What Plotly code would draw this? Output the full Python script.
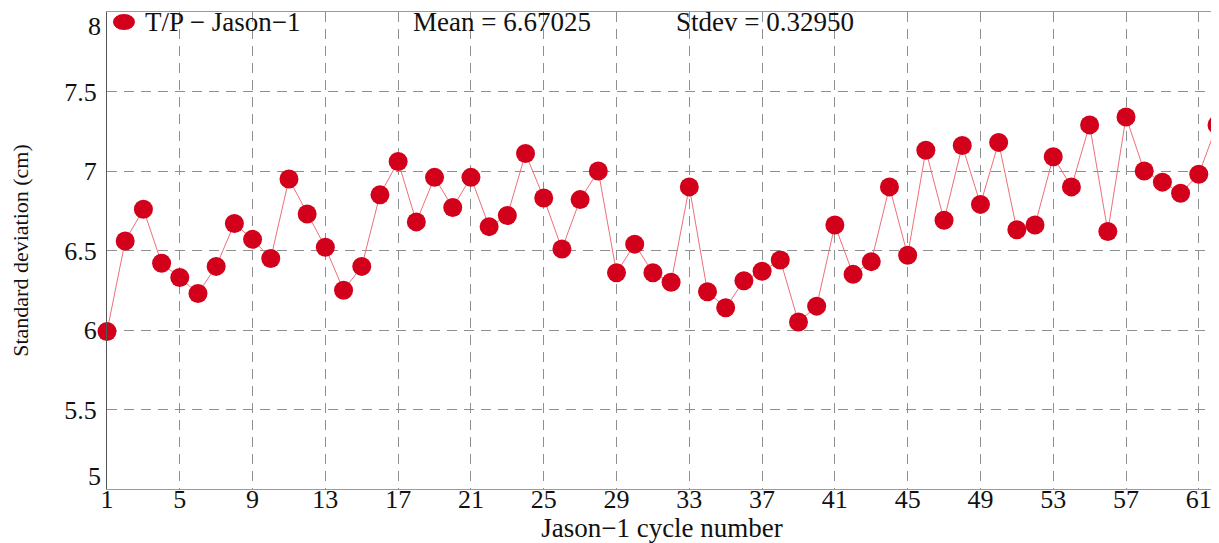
import plotly.graph_objects as go

cycles = list(range(1, 63))
std_dev = [5.99, 6.56, 6.76, 6.42, 6.33, 6.23, 6.40, 6.67, 6.57, 6.45,
           6.95, 6.73, 6.52, 6.25, 6.40, 6.85, 7.06, 6.68, 6.96, 6.77,
           6.96, 6.65, 6.72, 7.11, 6.83, 6.51, 6.82, 7.00, 6.36, 6.54,
           6.36, 6.30, 6.90, 6.24, 6.14, 6.31, 6.37, 6.44, 6.05, 6.15,
           6.66, 6.35, 6.43, 6.90, 6.47, 7.13, 6.69, 7.16, 6.79, 7.18,
           6.63, 6.66, 7.09, 6.90, 7.29, 6.62, 7.34, 7.00, 6.93, 6.86,
           6.98, 7.29]
x_ticks = list(range(1, 62, 4))
y_ticks = [5, 5.5, 6, 6.5, 7, 7.5, 8]
y_tick_text = ["5", "5.5", "6", "6.5", "7", "7.5", "8"]
series_name = "T/P \u2212 Jason\u22121"
mean_text = "Mean = 6.67025"
stdev_text = "Stdev = 0.32950"

font = "Liberation Serif"
red = "#d2001a"

fig = go.Figure()
fig.add_trace(go.Scatter(
    x=cycles, y=std_dev, mode="lines+markers", name=series_name, showlegend=False,
    line=dict(color="#ee6f78", width=1),
    marker=dict(color=red, size=19, line=dict(width=0)),
    cliponaxis=False,
))

tick_font = dict(family=font, size=26, color="#111")
grid = dict(showgrid=True, gridcolor="#8f8f8f", gridwidth=1, griddash="10px,7px",
            zeroline=False, ticks="", tickfont=tick_font,
            showline=True, linewidth=1, mirror=True,
            ticklabeloverflow="allow", automargin=False)

header_font = dict(family=font, size=27, color="#111")

# end labels of the y axis are nudged inside the plot edges (as in the original)
inner_ticktext = [t if i not in (0, len(y_tick_text) - 1) else "" for i, t in enumerate(y_tick_text)]
end_labels = [
    dict(text=y_tick_text[0], x=0, xref="paper", y=y_ticks[0], yref="y", xanchor="right",
         yanchor="bottom", showarrow=False, font=tick_font, xshift=-4, yshift=-4),
    dict(text=y_tick_text[-1], x=0, xref="paper", y=y_ticks[-1], yref="y", xanchor="right",
         yanchor="top", showarrow=False, font=tick_font, xshift=-4, yshift=2),
]

fig.update_layout(
    width=1211, height=535,
    margin=dict(l=99, r=2, t=4, b=54),
    paper_bgcolor="white", plot_bgcolor="white",
    font=dict(family=font, color="#111"),
    showlegend=False,
    xaxis=dict(range=[1, 62], tickmode="array", tickvals=x_ticks, **grid,
               linecolor="#9a9a9a",
               ticklabelstandoff=-13,
               title=dict(text="Jason\u22121 cycle number", font=dict(family=font, size=27), standoff=2)),
    yaxis=dict(range=[5, 8], tickmode="array", tickvals=y_ticks, ticktext=inner_ticktext, **grid,
               linecolor="#555",
               ticklabelstandoff=4,
               title=dict(text="Standard deviation (cm)", font=dict(family=font, size=22), standoff=32)),
    annotations=[
        # legend label
        dict(text=series_name, x=0.032, y=1.0, xref="paper", yref="paper", xanchor="left",
             yanchor="middle", showarrow=False, font=header_font, yshift=-10),
        dict(text=mean_text, x=0.356, y=1.0, xref="paper", yref="paper", xanchor="center",
             yanchor="middle", showarrow=False, font=header_font, yshift=-10),
        dict(text=stdev_text, x=0.593, y=1.0, xref="paper", yref="paper", xanchor="center",
             yanchor="middle", showarrow=False, font=header_font, yshift=-10),
    ] + end_labels,
    shapes=[
        # legend symbol (ellipse, pixel-sized, anchored in paper space)
        dict(type="circle", xref="paper", yref="paper", xsizemode="pixel", ysizemode="pixel",
             xanchor=0.0153, yanchor=0.979, x0=-11, x1=11, y0=-8, y1=8,
             fillcolor=red, line=dict(width=0), layer="above"),
    ],
)
fig.write_html("out.html")
